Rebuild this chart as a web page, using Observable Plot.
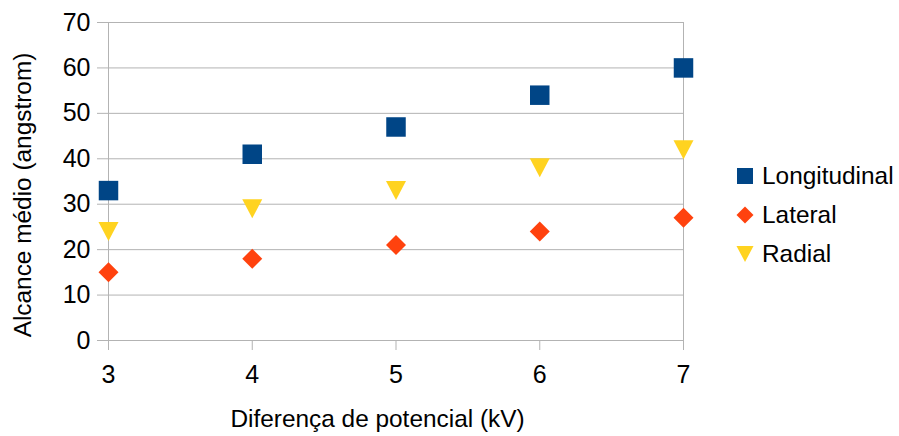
<!DOCTYPE html>
<html><head><meta charset="utf-8">
<script src="https://cdn.jsdelivr.net/npm/d3@7"></script>
<script src="https://cdn.jsdelivr.net/npm/@observablehq/plot@0.6"></script>
<style>
body{margin:0;background:#fff;font-family:"Liberation Sans",Arial,sans-serif;}
#wrap{position:relative;width:899px;height:436px;}
#legend{position:absolute;left:736px;top:156.5px;font-size:24.4px;color:#000;}
.row{display:flex;align-items:center;height:39.2px;white-space:nowrap;}
.row svg{margin-right:8px;display:block}
</style></head><body><div id="wrap"></div>
<script>
const voltages = [3, 4, 5, 6, 7];
const longitudinal = [33, 41, 47, 54, 60];
const lateral = [15, 18, 21, 24, 27];
const radial = [24, 29, 33, 38, 42];
const seriesNames = ["Longitudinal", "Lateral", "Radial"];
const seriesColors = ["#004586", "#ff420e", "#ffd320"];
const yTicks = [0, 10, 20, 30, 40, 50, 60, 70];
const xLabel = "Diferença de potencial (kV)";
const yLabel = "Alcance médio (angstrom)";

const sq = {draw(ctx, size){ const r = Math.sqrt(size/Math.PI), h = r*0.975; ctx.moveTo(-h,-h); ctx.lineTo(h,-h); ctx.lineTo(h,h); ctx.lineTo(-h,h); ctx.closePath(); }};
const dia = {draw(ctx, size){ const r = Math.sqrt(size/Math.PI); ctx.moveTo(0,-r); ctx.lineTo(r,0); ctx.lineTo(0,r); ctx.lineTo(-r,0); ctx.closePath(); }};
const tri = {draw(ctx, size){ const r = Math.sqrt(size/Math.PI), v = r*0.95; ctx.moveTo(-r,-v); ctx.lineTo(r,-v); ctx.lineTo(0,v); ctx.closePath(); }};
const symbols = [sq, dia, tri];

const seriesValues = [longitudinal, lateral, radial];
const data = seriesNames.flatMap((s, k) => voltages.map((v, i) => ({x: v, y: seriesValues[k][i], s})));

const font = "Liberation Sans, Arial, sans-serif";
const plot = Plot.plot({
  width: 899, height: 436,
  marginLeft: 108, marginRight: 216, marginTop: 22, marginBottom: 96,
  style: {fontFamily: font, fontSize: "25px", color: "#000", background: "#fff"},
  x: {domain: [3, 7]},
  y: {domain: [0, 70]},
  color: {domain: seriesNames, range: seriesColors},
  symbol: {domain: seriesNames, range: symbols},
  marks: [
    Plot.gridY(yTicks, {stroke: "#b3b3b3", strokeOpacity: 1}),
    Plot.frame({stroke: "#b3b3b3", strokeOpacity: 1}),
    Plot.axisY(yTicks, {tickSize: 11, tickPadding: 7, stroke: "#b3b3b3", strokeOpacity: 1, fill: "#000", label: null, fontSize: 25}),
    Plot.axisX(voltages, {tickSize: 10, tickPadding: 15, stroke: "#b3b3b3", strokeOpacity: 1, fill: "#000", label: null, fontSize: 25, tickFormat: d => String(d)}),
    Plot.dot(data, {x: "x", y: "y", symbol: "s", fill: "s", r: 10, stroke: "none"}),
    Plot.text([xLabel], {frameAnchor: "bottom", textAnchor: "middle", lineAnchor: "middle", dx: -18.5, dy: 79, fontSize: 24.4, fill: "#000"}),
    Plot.text([yLabel], {frameAnchor: "left", textAnchor: "middle", lineAnchor: "middle", rotate: -90, dx: -85.5, dy: 13.5, fontSize: 24.4, fill: "#000"})
  ]
});
const wrap = document.getElementById("wrap");
wrap.appendChild(plot);

const legend = document.createElement("div");
legend.id = "legend";
const icons = [
  '<rect x="1" y="1" width="16" height="16"/>',
  '<path d="M9,0.5L17.5,9L9,17.5L0.5,9Z"/>',
  '<path d="M0.5,1L17.5,1L9,17Z"/>'
];
seriesNames.forEach((n, k) => {
  const row = document.createElement("div");
  row.className = "row";
  row.innerHTML = `<svg width="18" height="18" viewBox="0 0 18 18" fill="${seriesColors[k]}">${icons[k]}</svg><span>${n}</span>`;
  legend.appendChild(row);
});
wrap.appendChild(legend);
</script></body></html>
